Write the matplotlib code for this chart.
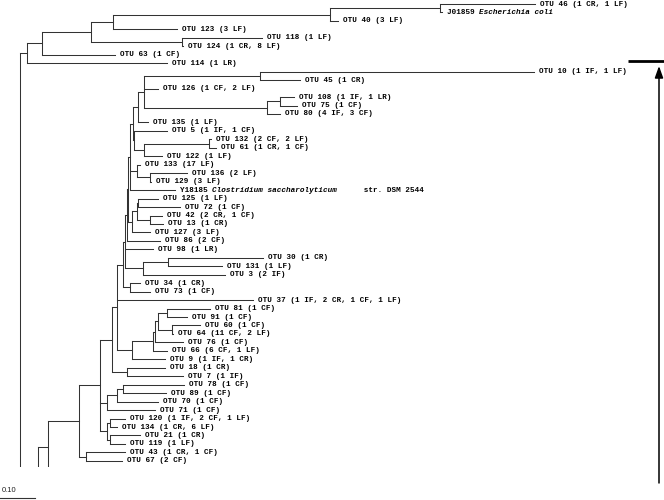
import matplotlib
matplotlib.use("Agg")
import matplotlib.pyplot as plt
from matplotlib.collections import LineCollection

# branch lengths in substitutions per site (scale bar = 0.10)
clade_enteric = ("((((((o46:0.271,ecoli:0.006):0.314,o40:0.023):0.620,o123:0.183):0.063,"
                 "(o118:0.229,o124:0.003):0.260):0.140,o63:0.209):0.043,o114:0.400)")
clade_otu10 = ("((o10:0.783,o45:0.114):0.331,o126:0.040,"
               "((o108:0.040,o75:0.049):0.037,o80:0.037):0.351)")
clade_n19 = (f"(({clade_otu10}:0.017,o135:0.029):0.014,"
             "(o5:0.094,((o132:0.006,o61:0.020):0.186,o122:0.054):0.026):0.003)")
clade_n21 = "(o133:0.009,(o136:0.106,o129:0.003):0.037)"
clade_n25 = "(((o125:0.057,o72:0.120):0.003,(o42:0.034,o13:0.037):0.037):0.014,o127:0.051)"
clade_u1 = f"(({clade_n19}:0.009,{clade_n21}:0.020,clos:0.129):0.006,{clade_n25}:0.011)"
clade_l1 = (f"((({clade_u1}:0.003,o86:0.094):0.006,o98:0.080,"
            "((o30:0.271,o131:0.154):0.071,o3:0.234):0.051):0.006,(o34:0.029,o73:0.057):0.020)")
clade_n35 = ("(((((o81:0.123,o91:0.057):0.026,(o60:0.080,o64:0.003):0.040):0.009,"
             "o76:0.080):0.006,o66:0.040):0.060,o9:0.094)")
clade_n40 = f"(({clade_l1}:0.017,o37:0.389,{clade_n35}:0.043):0.014,(o18:0.109,o7:0.160):0.043)"
clade_n47 = (f"({clade_n40}:0.034,(((o78:0.174,o89:0.123):0.017,o70:0.117):0.029,o71:0.137):0.020,"
             "((o120:0.043,o134:0.020):0.009,(o21:0.086,o119:0.043):0.009):0.020)")
clade_n49 = f"({clade_n47}:0.060,(o43:0.111,o67:0.103):0.020)"
# h1..h4 continue below the cropped edge of the original figure
tree_newick = (f"({clade_enteric}:0.020,(({clade_n49}:0.089,(h1:0.05,h2:0.05):0.02):0.029,"
               "(h3:0.05,h4:0.05):0.02):0.051)")

leaf_labels = {
    "o46": "OTU 46 (1 CR, 1 LF)", "ecoli": "J01859 _Escherichia coli_",
    "o40": "OTU 40 (3 LF)", "o123": "OTU 123 (3 LF)", "o118": "OTU 118 (1 LF)",
    "o124": "OTU 124 (1 CR, 8 LF)", "o63": "OTU 63 (1 CF)", "o114": "OTU 114 (1 LR)",
    "o10": "OTU 10 (1 IF, 1 LF)", "o45": "OTU 45 (1 CR)", "o126": "OTU 126 (1 CF, 2 LF)",
    "o108": "OTU 108 (1 IF, 1 LR)", "o75": "OTU 75 (1 CF)", "o80": "OTU 80 (4 IF, 3 CF)",
    "o135": "OTU 135 (1 LF)", "o5": "OTU 5 (1 IF, 1 CF)", "o132": "OTU 132 (2 CF, 2 LF)",
    "o61": "OTU 61 (1 CR, 1 CF)", "o122": "OTU 122 (1 LF)", "o133": "OTU 133 (17 LF)",
    "o136": "OTU 136 (2 LF)", "o129": "OTU 129 (3 LF)",
    "clos": "Y18185 _Clostridium saccharolyticum_      str. DSM 2544",
    "o125": "OTU 125 (1 LF)", "o72": "OTU 72 (1 CF)", "o42": "OTU 42 (2 CR, 1 CF)",
    "o13": "OTU 13 (1 CR)", "o127": "OTU 127 (3 LF)", "o86": "OTU 86 (2 CF)",
    "o98": "OTU 98 (1 LR)", "o30": "OTU 30 (1 CR)", "o131": "OTU 131 (1 LF)",
    "o3": "OTU 3 (2 IF)", "o34": "OTU 34 (1 CR)", "o73": "OTU 73 (1 CF)",
    "o37": "OTU 37 (1 IF, 2 CR, 1 CF, 1 LF)", "o81": "OTU 81 (1 CF)", "o91": "OTU 91 (1 CF)",
    "o60": "OTU 60 (1 CF)", "o64": "OTU 64 (11 CF, 2 LF)", "o76": "OTU 76 (1 CF)",
    "o66": "OTU 66 (6 CF, 1 LF)", "o9": "OTU 9 (1 IF, 1 CR)", "o18": "OTU 18 (1 CR)",
    "o7": "OTU 7 (1 IF)", "o78": "OTU 78 (1 CF)", "o89": "OTU 89 (1 CF)",
    "o70": "OTU 70 (1 CF)", "o71": "OTU 71 (1 CF)", "o120": "OTU 120 (1 IF, 2 CF, 1 LF)",
    "o134": "OTU 134 (1 CR, 6 LF)", "o21": "OTU 21 (1 CR)", "o119": "OTU 119 (1 LF)",
    "o43": "OTU 43 (1 CR, 1 CF)", "o67": "OTU 67 (2 CF)",
}
scale_len = 0.10


def parse_newick(s):
    pos = 0

    def node():
        nonlocal pos
        kids = []
        if s[pos] == "(":
            pos += 1
            while True:
                kids.append(node())
                if s[pos] == ",":
                    pos += 1
                    continue
                pos += 1  # ')'
                break
        start = pos
        while pos < len(s) and s[pos] not in ":,()":
            pos += 1
        name = s[start:pos]
        length = 0.0
        if pos < len(s) and s[pos] == ":":
            pos += 1
            start = pos
            while pos < len(s) and s[pos] not in ",()":
                pos += 1
            length = float(s[start:pos])
        return {"name": name, "len": length, "children": kids}

    return node()


tree = parse_newick(tree_newick)
leaves = []


def layout(n, x0):
    n["x"] = x0 + n["len"]
    if not n["children"]:
        n["y"] = len(leaves)
        leaves.append(n)
    else:
        for c in n["children"]:
            layout(c, n["x"])
        n["y"] = (n["children"][0]["y"] + n["children"][-1]["y"]) / 2


layout(tree, 0.0)

segs = []


def collect(n):
    if n["children"]:
        segs.append([(n["x"], n["children"][0]["y"]), (n["x"], n["children"][-1]["y"])])
        for c in n["children"]:
            segs.append([(n["x"], c["y"]), (c["x"], c["y"])])
            collect(c)


collect(tree)

# page geometry (pixels)
W, H = 664, 500
px_unit = 350.0          # pixels per substitution unit
root_px = 20
leaf0_px, leaf_step = 4, 8.46
crop_px = 467

fig = plt.figure(figsize=(W / 100, H / 100), dpi=100)
ax = fig.add_axes([0, 1 - crop_px / H, 1, crop_px / H])
ax.set_xlim(-root_px / px_unit, (W - root_px) / px_unit)
ax.set_ylim((crop_px - leaf0_px) / leaf_step, -leaf0_px / leaf_step)
ax.axis("off")

ax.add_collection(LineCollection(segs, colors="#333333", linewidths=0.75,
                                 capstyle="projecting"))

fs = 5.5
char_pt = 0.6 * fs
gap_pt = 3.6
for lf in leaves:
    lab = leaf_labels.get(lf["name"], "")
    if not lab:
        continue
    off = 0
    for i, part in enumerate(lab.split("_")):
        if part:
            ax.annotate(part, (lf["x"], lf["y"]), xytext=(gap_pt + off * char_pt, 0),
                        textcoords="offset points", fontsize=fs, family="Liberation Mono",
                        weight="bold", style="italic" if i % 2 else "normal",
                        va="center", ha="left", color="black", annotation_clip=True)
        off += len(part)

ov = fig.add_axes([0, 0, 1, 1])
ov.set_xlim(0, W)
ov.set_ylim(H, 0)
ov.axis("off")
ov.patch.set_alpha(0)

# scale bar
ov.plot([0, scale_len * px_unit], [498, 498], color="#333333", lw=0.8)
ov.text(2, 490.5, f"{scale_len:.2f}", fontsize=5.5, family="Liberation Sans",
        va="center", ha="left", color="#222222")

# arrow at right
ov.plot([628, 664], [61, 61], color="black", lw=2.0, solid_capstyle="butt")
ov.annotate("", xy=(659, 66), xytext=(659, 483),
            arrowprops=dict(arrowstyle="-|>,head_length=0.7,head_width=0.25",
                            lw=1.1, color="black", shrinkA=0, shrinkB=0))

fig.savefig("out.png", dpi=100)
